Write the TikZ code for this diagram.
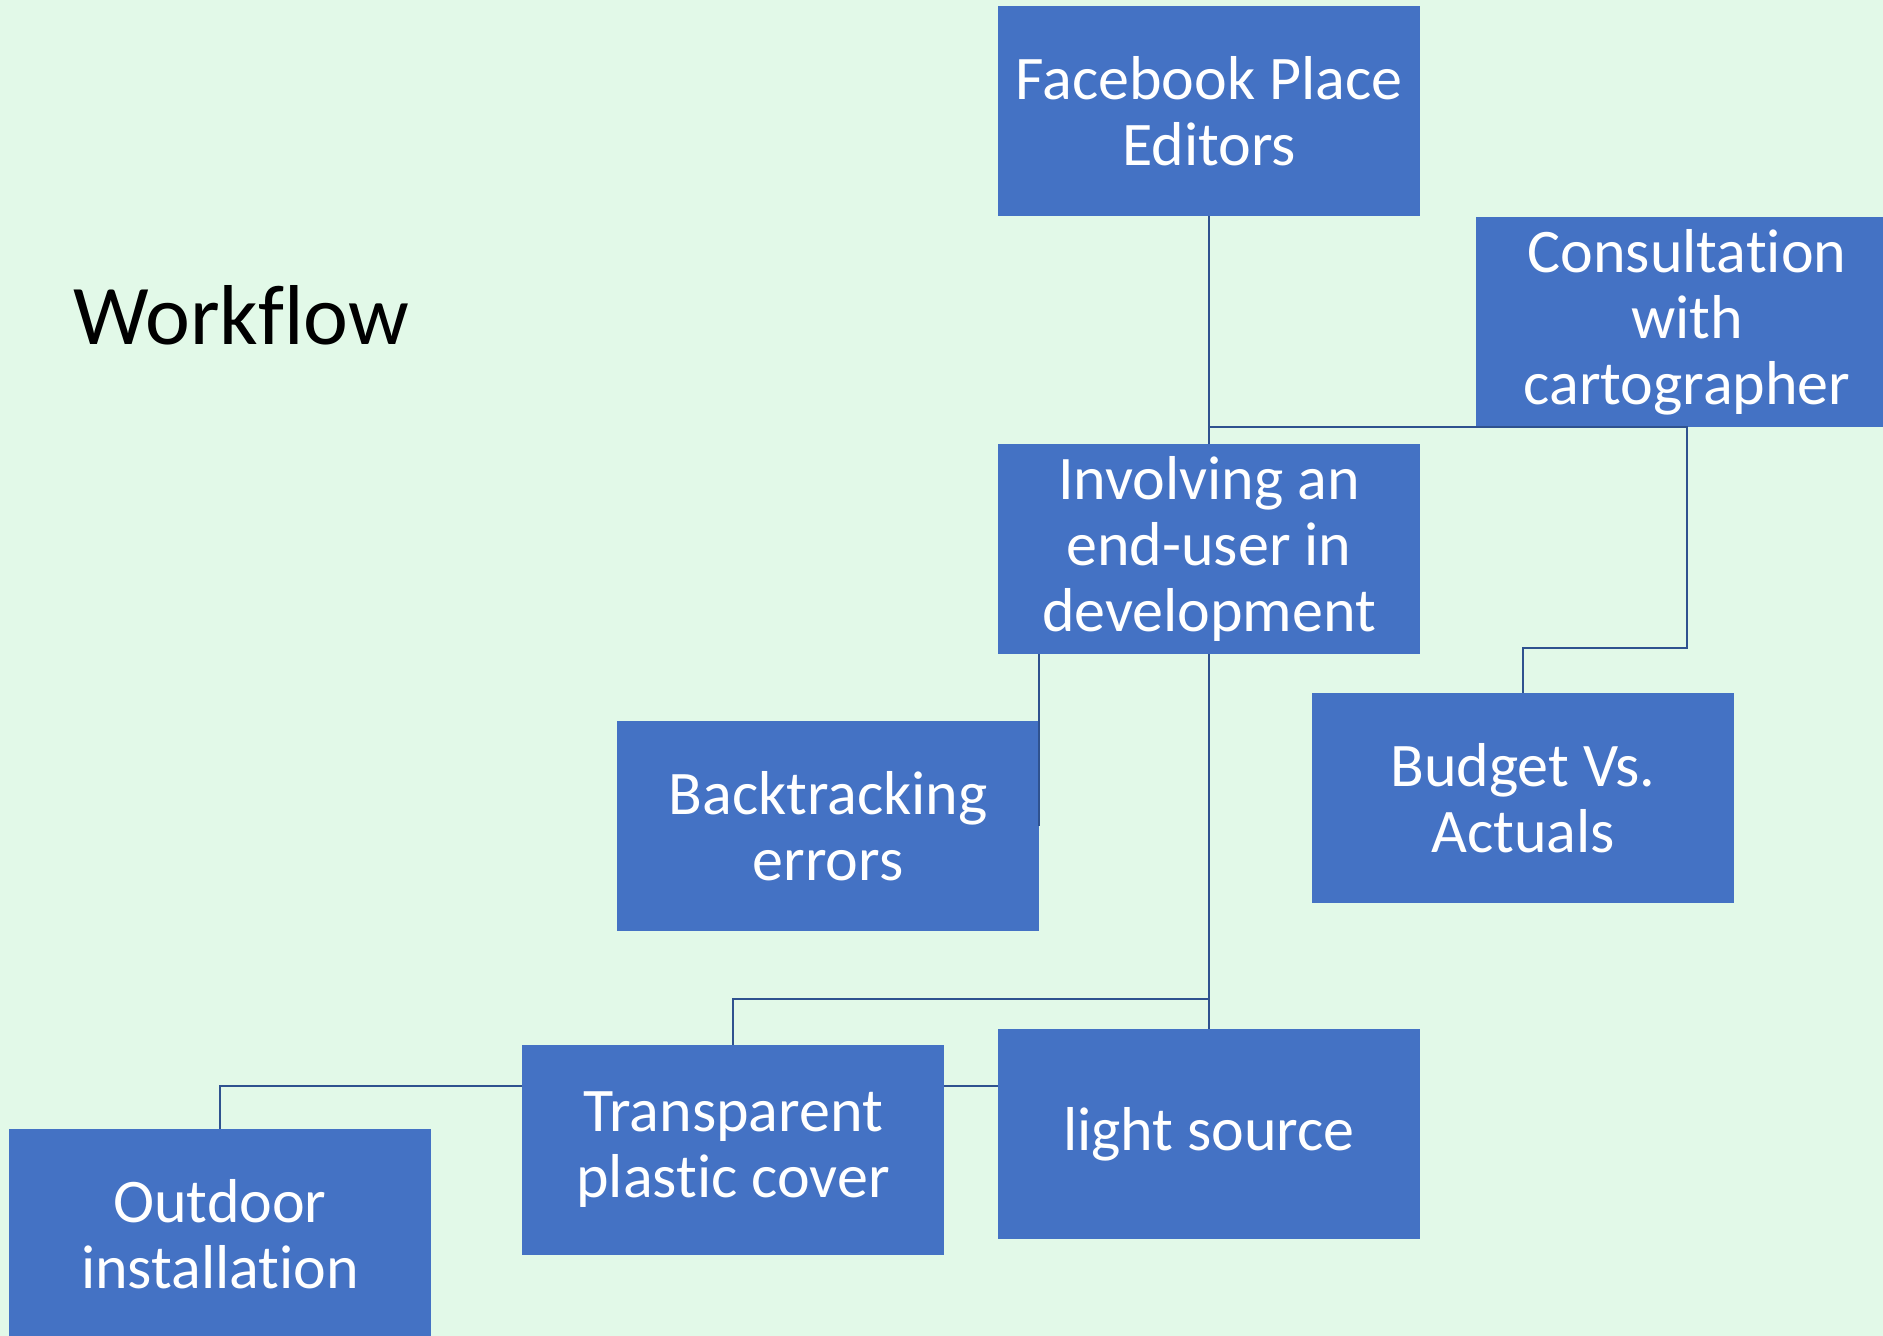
\documentclass[tikz,border=0pt]{standalone}
\usepackage{fontspec}
\setmainfont{Carlito}[Ligatures={NoCommon}]
\usetikzlibrary{calc}
\definecolor{bgmint}{HTML}{E2F9E8}
\definecolor{boxblue}{HTML}{4472C4}
\definecolor{linkblue}{HTML}{2F528F}
\tikzstyle{task} = [rectangle, fill=boxblue, text=white, minimum width=210.75pt, minimum height=105pt, inner sep=0pt, align=center, font=\fontsize{31}{33}\selectfont]
\tikzstyle{link} = [draw=linkblue, line width=1.1pt]

\begin{document}
\begin{tikzpicture}[x=0.5pt, y=-0.5pt]
		% Background
		\fill[bgmint] (0,0) rectangle (1883,1336);
		\useasboundingbox (0,0) rectangle (1883,1336);
		
		% Title
		\node[font=\fontsize{42.5}{50}\selectfont] (title) at (241,315) {Workflow};
		
		% Boxes
		\node[task] (fb) at (1209,111) {Facebook Place\\Editors};
		\node[task] (cons) at (1687,322) {Consultation\\with\\cartographer};
		\node[task] (inv) at (1209,549) {Involving an\\end-user in\\development};
		\node[task] (bt) at (828,826) {Backtracking\\errors};
		\node[task] (bud) at (1523,798) {Budget Vs.\\Actuals};
		\node[task] (light) at (1209,1134) {light source};
		\node[task] (tpc) at (733,1150) {Transparent\\plastic cover};
		\node[task] (out) at (220,1234) {Outdoor\\installation};
		
		% Coordinates
		\coordinate (consbend) at (1687,648);
		\coordinate (lightfork) at (1209,999);
		\coordinate (coverline) at (0,1086);
		
		% Connectors
		\draw[link] (fb) -- (inv);
		\draw[link] (fb.south |- cons.south) -- (cons.south) -- (consbend) -| (bud.north);
		\draw[link] (bt.east |- inv.south) -- (bt.east);
		\draw[link] (inv) -- (light);
		\draw[link] (lightfork) -| (tpc.north);
		\draw[link] (tpc.west |- coverline) -| (out.north);
		\draw[link] (tpc.east |- coverline) -- (light.west |- coverline);
	\end{tikzpicture}
\end{document}
